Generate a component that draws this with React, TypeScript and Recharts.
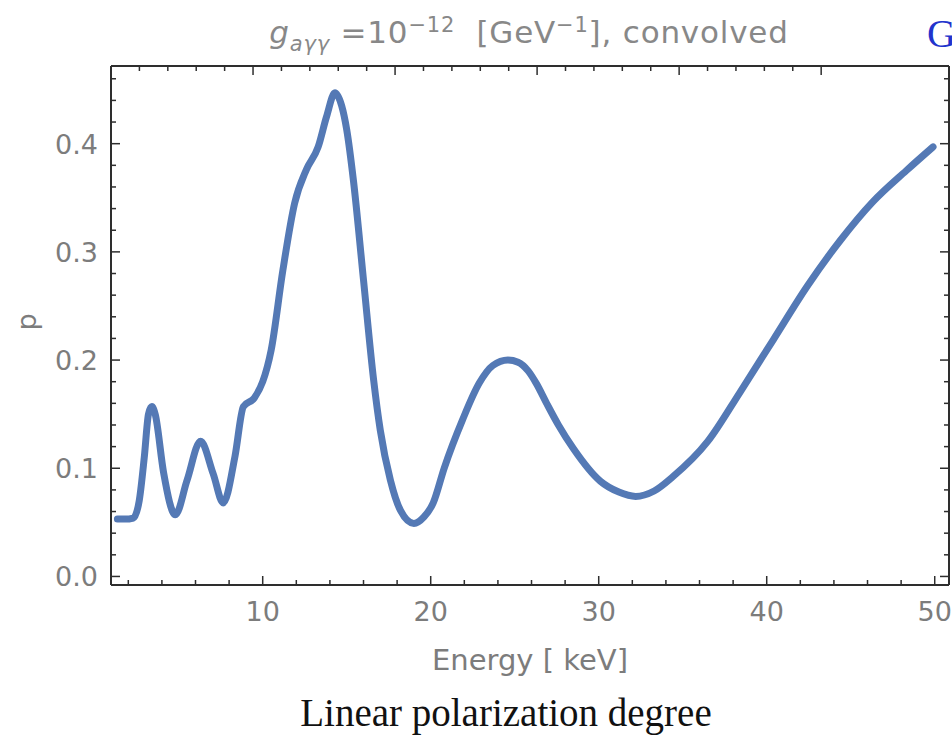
import { LineChart, Line, XAxis, YAxis } from 'recharts';

// energy in keV and linear polarization degree p
const energy = [
  1.35, 1.8, 2.3, 2.65, 2.95, 3.2, 3.4, 3.6, 4.1, 4.8, 5.5, 6.3, 7.05, 7.65, 8.35, 8.85, 9.5,
  10.0, 10.5, 11.2, 11.9, 12.6, 13.3, 13.8, 14.3, 14.7, 15.0, 15.4, 16.0, 16.6, 17.0, 17.6,
  18.2, 19.0, 19.6, 20.15, 20.8, 21.9, 22.9, 23.7, 24.6, 25.2, 25.8, 26.3, 26.9, 27.6, 28.5,
  30.1, 31.2, 32.2, 33.3, 34.4, 36.5, 38.4, 40.4, 42.4, 44.4, 46.3, 48.3, 49.9,
];
const polarization = [
  0.053, 0.053, 0.054, 0.07, 0.11, 0.15, 0.157, 0.15, 0.096, 0.057, 0.089, 0.125, 0.095, 0.068,
  0.111, 0.157, 0.165, 0.18, 0.209, 0.283, 0.345, 0.376, 0.397, 0.425, 0.447, 0.435, 0.413,
  0.366, 0.274, 0.182, 0.135, 0.089, 0.061, 0.049, 0.055, 0.068, 0.1, 0.145, 0.179, 0.195,
  0.2, 0.198, 0.19, 0.178, 0.16, 0.14, 0.118, 0.088, 0.078, 0.074, 0.079, 0.092, 0.125, 0.17,
  0.219, 0.268, 0.311, 0.346, 0.375, 0.397,
];

const xTicks = [2, 4, 6, 8, 10, 12, 14, 16, 18, 20, 22, 24, 26, 28, 30, 32, 34, 36, 38, 40, 42, 44, 46, 48, 50];
const yTicks = [
  0, 0.02, 0.04, 0.06, 0.08, 0.1, 0.12, 0.14, 0.16, 0.18, 0.2, 0.22, 0.24, 0.26, 0.28, 0.3,
  0.32, 0.34, 0.36, 0.38, 0.4, 0.42, 0.44, 0.46,
];

const data = energy.map((e, i) => ({ e, p: polarization[i] }));

const FRAME = '#2e2e2e';
const LABEL = '#7c7c7c';
const FONT = '"DejaVu Sans", sans-serif';
const M = 12; // tick margin

const isMajorX = (v: number) => v % 10 === 0;
const isMajorY = (v: number) => Math.round(v * 100) % 10 === 0;

const BottomTick = ({ x, y, payload }: any) => {
  const axisY = y - M;
  const major = isMajorX(payload.value);
  return (
    <g>
      <line x1={x} x2={x} y1={axisY} y2={axisY - (major ? 9 : 5)} stroke={FRAME} strokeWidth={1.5} />
      {major && (
        <text x={x} y={axisY + 36} textAnchor="middle" fill={LABEL} fontSize={27} fontFamily={FONT}>
          {payload.value}
        </text>
      )}
    </g>
  );
};

const TopTick = ({ x, y, payload }: any) => {
  const axisY = y + M;
  const major = isMajorX(payload.value);
  return <line x1={x} x2={x} y1={axisY} y2={axisY + (major ? 9 : 5)} stroke={FRAME} strokeWidth={1.5} />;
};

const LeftTick = ({ x, y, payload }: any) => {
  const axisX = x + M;
  const major = isMajorY(payload.value);
  return (
    <g>
      <line x1={axisX} x2={axisX + (major ? 9 : 5)} y1={y} y2={y} stroke={FRAME} strokeWidth={1.5} />
      {major && (
        <text x={axisX - 13} y={y + 10} textAnchor="end" fill={LABEL} fontSize={27} fontFamily={FONT}>
          {payload.value.toFixed(1)}
        </text>
      )}
    </g>
  );
};

const RightTick = ({ x, y, payload }: any) => {
  const axisX = x - M;
  const major = isMajorY(payload.value);
  return <line x1={axisX} x2={axisX - (major ? 9 : 5)} y1={y} y2={y} stroke={FRAME} strokeWidth={1.5} />;
};

const axisLine = { stroke: FRAME, strokeWidth: 2 };

export default function App() {
  return (
    <div style={{ position: 'absolute', left: 0, top: 0, width: 952, height: 740, overflow: 'hidden', background: '#fff' }}>
      <div
        style={{
          position: 'absolute', left: 529, top: 13, transform: 'translateX(-50%)', whiteSpace: 'nowrap',
          color: '#888', fontFamily: FONT, fontSize: 31, letterSpacing: 0.8,
        }}
      >
        <i>g</i>
        <sub style={{ fontSize: 21 }}><i>aγγ</i></sub>
        {' =10'}
        <sup style={{ fontSize: 21 }}>−12</sup>
        {'\u00a0 [GeV'}
        <sup style={{ fontSize: 21 }}>−1</sup>
        {'], convolved'}
      </div>
      <div style={{ position: 'absolute', left: 927, top: 10, color: '#2233cc', fontFamily: '"Liberation Serif", serif', fontSize: 40 }}>
        G
      </div>

      <LineChart width={952} height={740} data={data} margin={{ top: 65, right: 2, left: 11, bottom: 115 }}>
        <XAxis
          xAxisId="b"
          dataKey="e"
          type="number"
          domain={[0.97, 50.85]}
          allowDataOverflow
          ticks={xTicks}
          interval={0}
          tickSize={0}
          tickMargin={M}
          height={40}
          axisLine={axisLine}
          tick={<BottomTick />}
        />
        <XAxis
          xAxisId="t"
          orientation="top"
          type="number"
          domain={[0.97, 50.85]}
          allowDataOverflow
          ticks={xTicks}
          interval={0}
          tickSize={0}
          tickMargin={M}
          height={1}
          axisLine={axisLine}
          tick={<TopTick />}
        />
        <YAxis
          yAxisId="l"
          type="number"
          domain={[-0.0079, 0.4718]}
          allowDataOverflow
          ticks={yTicks}
          interval={0}
          tickSize={0}
          tickMargin={M}
          width={100}
          axisLine={axisLine}
          tick={<LeftTick />}
        />
        <YAxis
          yAxisId="r"
          orientation="right"
          type="number"
          domain={[-0.0079, 0.4718]}
          allowDataOverflow
          ticks={yTicks}
          interval={0}
          tickSize={0}
          tickMargin={M}
          width={1}
          axisLine={axisLine}
          tick={<RightTick />}
        />
        <Line
          xAxisId="b"
          yAxisId="l"
          type="monotone"
          dataKey="p"
          stroke="#5479b5"
          strokeWidth={7}
          strokeLinecap="round"
          dot={false}
          isAnimationActive={false}
        />
      </LineChart>

      <div
        style={{
          position: 'absolute', left: 26, top: 322, transform: 'translate(-50%, -50%) rotate(-90deg)',
          color: LABEL, fontFamily: FONT, fontSize: 27,
        }}
      >
        p
      </div>
      <div
        style={{
          position: 'absolute', left: 530, top: 643, transform: 'translateX(-50%)', whiteSpace: 'nowrap',
          color: LABEL, fontFamily: FONT, fontSize: 29,
        }}
      >
        Energy [ keV]
      </div>
      <div
        style={{
          position: 'absolute', left: 506, top: 690, transform: 'translateX(-50%)', whiteSpace: 'nowrap',
          color: '#111', fontFamily: '"Liberation Serif", serif', fontSize: 39,
        }}
      >
        Linear polarization degree
      </div>
    </div>
  );
}
